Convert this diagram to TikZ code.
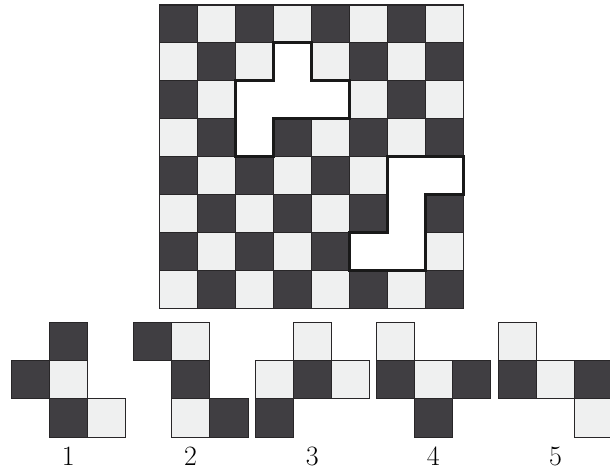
\documentclass[tikz,border=0pt]{standalone}
\definecolor{dk}{RGB}{64,62,66}
\definecolor{lt}{RGB}{239,240,240}
\definecolor{edge}{RGB}{40,38,40}
\begin{document}
\begin{tikzpicture}[x=1pt,y=-1pt,
  sq/.style={draw=edge,line width=0.8pt},
  hole/.style={fill=white,draw=black!90,line width=3pt,line join=miter},
  lbl/.style={font=\fontsize{28}{30}\selectfont,inner sep=0pt}]
\useasboundingbox (0,0) rectangle (610,470);
\clip (0,0) rectangle (610,470);
% board
\begin{scope}[shift={(159.5,5)},x=38pt,y=-37.9pt]
  \foreach \r in {0,...,7}{
    \foreach \c in {0,...,7}{
      \pgfmathtruncatemacro\s{mod(\c+\r,2)}
      \ifnum\s=0
        \filldraw[sq,fill=dk] (\c,\r) rectangle ++(1,1);
      \else
        \filldraw[sq,fill=lt] (\c,\r) rectangle ++(1,1);
      \fi
    }
  }
  \draw[edge,line width=1pt] (0,0) rectangle (8,8);
  \filldraw[hole] (3,1) -- (4,1) -- (4,2) -- (5,2) -- (5,3) -- (3,3) -- (3,4) -- (2,4) -- (2,2) -- (3,2) -- cycle;
  \filldraw[hole] (6,4) -- (8,4) -- (8,5) -- (7,5) -- (7,7) -- (5,7) -- (5,6) -- (6,6) -- cycle;
\end{scope}
% pieces
\foreach \ox/\cells/\n in {
  11/{1/0/dk,0/1/dk,1/1/lt,1/2/dk,2/2/lt}/1,
  133.3/{0/0/dk,1/0/lt,1/1/dk,1/2/lt,2/2/dk}/2,
  255/{1/0/lt,0/1/lt,1/1/dk,2/1/lt,0/2/dk}/3,
  376/{0/0/lt,0/1/dk,1/1/lt,2/1/dk,1/2/dk}/4,
  498.3/{0/0/lt,0/1/dk,1/1/lt,2/1/dk,2/2/lt}/5}{
  \begin{scope}[shift={(\ox,322.3)},x=38.2pt,y=-38.2pt]
    \foreach \c/\r/\col in \cells {
      \filldraw[sq,fill=\col] (\c,\r) rectangle ++(1,1);
    }
    \node[lbl] (label\n) at (1.5,3.5) {\n};
  \end{scope}
}
\end{tikzpicture}
\end{document}
